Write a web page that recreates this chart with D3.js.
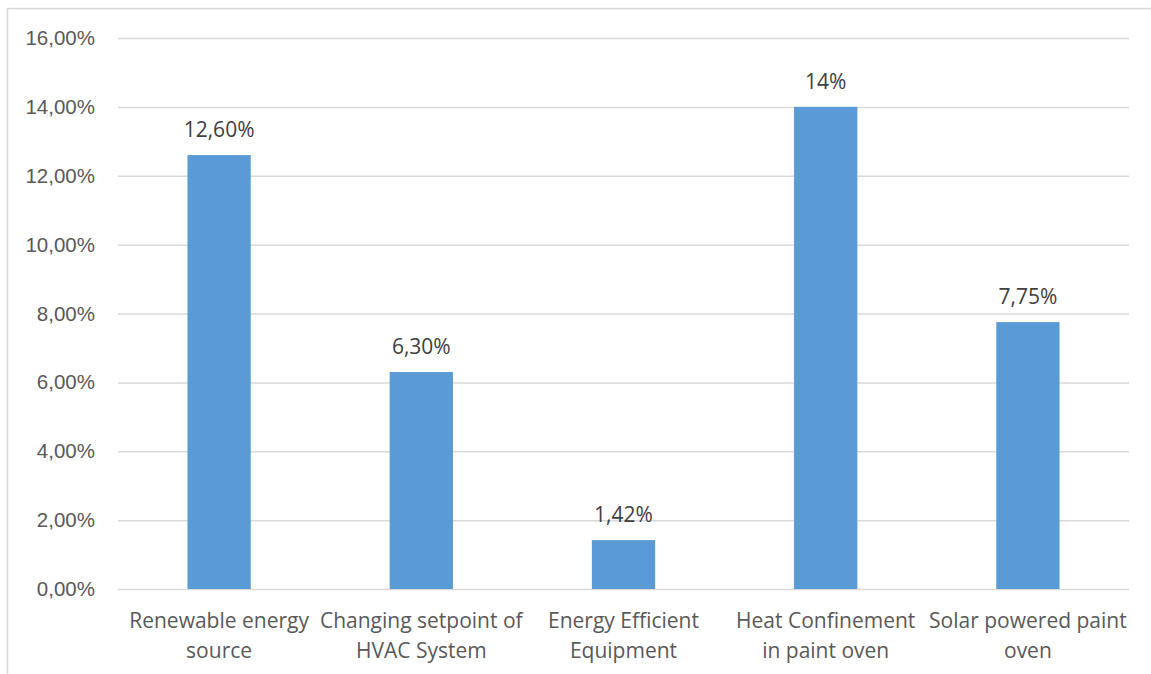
<!DOCTYPE html>
<html>
<head>
<meta charset="utf-8">
<script src="https://cdn.jsdelivr.net/npm/d3@7"></script>
<style>
  html, body { margin: 0; padding: 0; background: #ffffff; }
  svg { display: block; font-family: "Open Sans", "Noto Sans", sans-serif; }
</style>
</head>
<body>
<svg id="chart" width="1151" height="674"></svg>
<script>
// Energy-saving measures and their share of savings
const categories = [
  ["Renewable energy", "source"],
  ["Changing setpoint of", "HVAC System"],
  ["Energy Efficient", "Equipment"],
  ["Heat Confinement", "in paint oven"],
  ["Solar powered paint", "oven"]
];
const values = [12.60, 6.30, 1.42, 14.00, 7.75];
const valueLabels = ["12,60%", "6,30%", "1,42%", "14%", "7,75%"];
const yTicks = [0, 2, 4, 6, 8, 10, 12, 14, 16];
const yTickLabels = ["0,00%", "2,00%", "4,00%", "6,00%", "8,00%", "10,00%", "12,00%", "14,00%", "16,00%"];

const svg = d3.select("#chart");
const W = 1151, H = 674;
const plot = { left: 118, right: 1129, top: 38, bottom: 589 };

// chart frame
svg.append("rect")
  .attr("x", 7.5).attr("y", 8.5)
  .attr("width", W + 10).attr("height", H + 10)
  .attr("fill", "#ffffff")
  .attr("stroke", "#d9d9d9").attr("stroke-width", 1.5);

const x = d3.scaleBand()
  .domain(d3.range(categories.length))
  .range([plot.left, plot.right])
  .padding(0);

const y = d3.scaleLinear().domain([0, 16]).range([plot.bottom, plot.top]);

// gridlines and y tick labels
const yAxis = d3.axisLeft(y)
  .tickValues(yTicks)
  .tickSize(-(plot.right - plot.left))
  .tickPadding(23)
  .tickFormat((d, i) => yTickLabels[i]);

const gy = svg.append("g")
  .attr("transform", `translate(${plot.left},0)`)
  .call(yAxis);
gy.select(".domain").remove();
gy.selectAll(".tick line").attr("stroke", "#d9d9d9").attr("stroke-width", 1.5);
gy.selectAll(".tick text")
  .attr("fill", "#595959")
  .style("font-size", "20.5px");

// bars
const barW = x.bandwidth() * 0.313;
svg.append("g").selectAll("rect")
  .data(values)
  .join("rect")
  .attr("x", (d, i) => x(i) + (x.bandwidth() - barW) / 2)
  .attr("y", d => y(d))
  .attr("width", barW)
  .attr("height", d => y(0) - y(d))
  .attr("fill", "#5b9bd5");

// value labels
svg.append("g").selectAll("text")
  .data(values)
  .join("text")
  .attr("x", (d, i) => x(i) + x.bandwidth() / 2)
  .attr("y", d => y(d) - 18)
  .attr("text-anchor", "middle")
  .attr("fill", "#404040")
  .style("font-size", "21px")
  .text((d, i) => valueLabels[i]);

// category labels
const cat = svg.append("g").selectAll("text")
  .data(categories)
  .join("text")
  .attr("text-anchor", "middle")
  .attr("fill", "#595959")
  .style("font-size", "21px");
cat.each(function (lines, i) {
  const t = d3.select(this);
  lines.forEach((ln, k) => {
    t.append("tspan")
      .attr("x", x(i) + x.bandwidth() / 2)
      .attr("y", plot.bottom + 39 + k * 30)
      .text(ln);
  });
});
</script>
</body>
</html>
